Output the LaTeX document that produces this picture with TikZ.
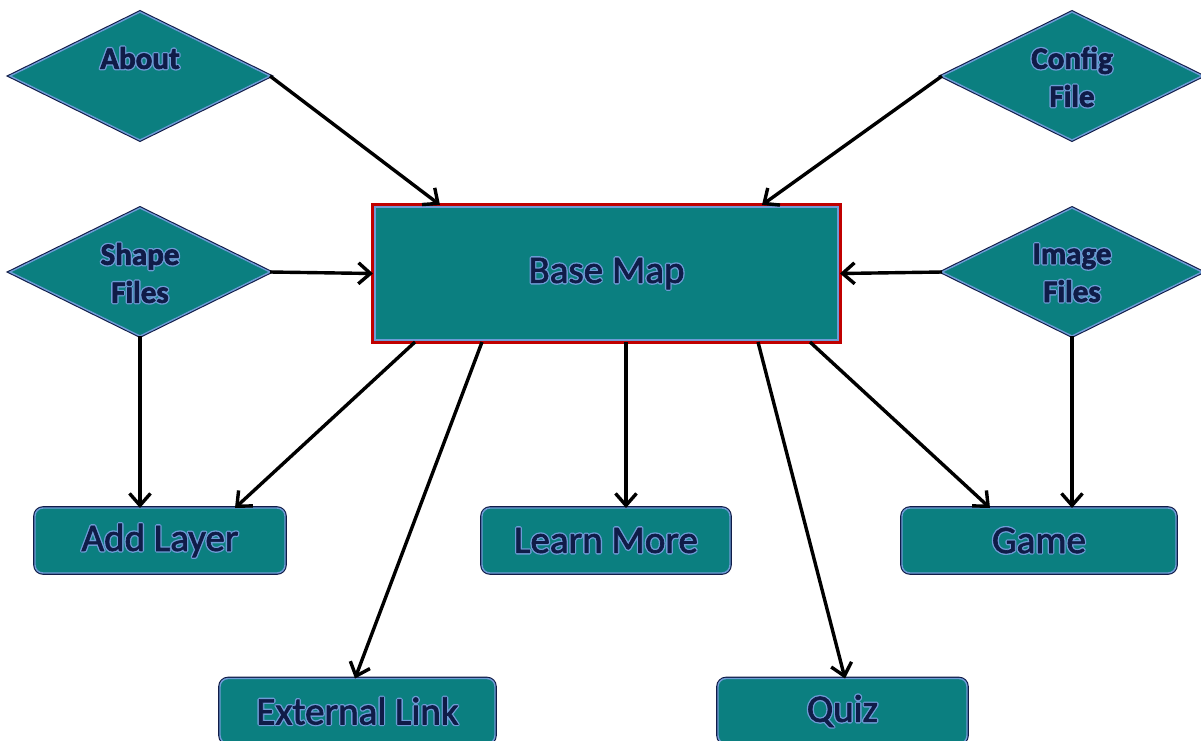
\documentclass[tikz,border=0pt]{standalone}
\usepackage{fontspec}
\setmainfont{Carlito}
\usetikzlibrary{shapes.geometric,arrows.meta}
\definecolor{tealfill}{HTML}{0B7F80}
\definecolor{navy}{HTML}{101C48}
\definecolor{lblue}{HTML}{6E9BD6}
\definecolor{redb}{HTML}{C00000}
\newcommand\gl[1]{\leavevmode\rlap{\color{lblue}\special{pdf:literal direct 2 Tr 3.4 w 0.431 0.608 0.839 RG 1 j}#1\special{pdf:literal direct 0 Tr 0 0 0 RG 0.4 w 0 j}}{\color{navy}\special{pdf:literal direct 2 Tr 0.7 w 0.063 0.110 0.282 RG}#1\special{pdf:literal direct 0 Tr 0 0 0 RG 0.4 w}}}
\tikzset{
  dia/.style={diamond, fill=tealfill, draw=lblue, line width=1.4pt,
    preaction={draw=navy, line width=3.6pt},
    minimum width=260pt, minimum height=128pt, inner sep=0pt, outer sep=0pt},
  dtext/.style={font=\fontsize{31}{38}\selectfont\bfseries, align=center, inner sep=0pt},
  rbox/.style={rectangle, rounded corners=8pt, fill=tealfill, draw=lblue, line width=1.4pt,
    preaction={draw=navy, line width=3.6pt},
    minimum height=65pt, inner sep=0pt, outer sep=0pt,
    font=\fontsize{39}{47}\selectfont},
  basebox/.style={rectangle, fill=tealfill, draw=lblue, line width=1.4pt,
    preaction={draw=redb, line width=8pt},
    minimum width=463pt, minimum height=133pt, inner sep=0pt, outer sep=2pt,
    font=\fontsize{39}{47}\selectfont},
  arr/.style={draw=black, line width=3.4pt, -{Straight Barb[length=12pt,width=21pt]}}
}
\begin{document}
\begin{tikzpicture}[x=1pt,y=-1pt]
\useasboundingbox (0,0) rectangle (1201,740);
% diamonds
\node[dia] (about) at (140,76) {};
\node[dtext] (aboutt) at (140,58) {\gl{About}};
\node[dia] (config) at (1072,76) {};
\node[dtext] (configt) at (1072,77) {\gl{Config}\\\gl{File}};
\node[dia] (shape) at (140,272) {};
\node[dtext] (shapet) at (140,273) {\gl{Shape}\\\gl{Files}};
\node[dia] (image) at (1072,272) {};
\node[dtext] (imaget) at (1072,273) {\gl{Image}\\\gl{Files}};
% base map
\node[basebox] (base) at (606.5,273.5) {\gl{Base Map}};
% boxes
\node[rbox, minimum width=250pt] (addl) at (160,540.5) {\gl{Add Layer}};
\node[rbox, minimum width=248pt] (learn) at (606,540.5) {\gl{Learn More}};
\node[rbox, minimum width=274pt] (game) at (1039,540.5) {\gl{Game}};
\node[rbox, minimum width=275pt] (ext) at (357.5,711) {\gl{External Link}};
\node[rbox, minimum width=249pt] (quiz) at (842.5,711) {\gl{Quiz}};
% arrows
\draw[arr] (about.east) -- ([xshift=-166.5pt]base.north);
\draw[arr] (config.west) -- ([xshift=155.5pt]base.north);
\draw[arr] (shape.east) -- (base.west);
\draw[arr] (image.west) -- (base.east);
\draw[arr] (shape.south) -- (shape.south |- addl.north);
\draw[arr] (image.south) -- (image.south |- game.north);
\draw[arr] ([xshift=-191.5pt]base.south) -- ([xshift=75pt]addl.north);
\draw[arr] ([xshift=-124.5pt]base.south) -- ([xshift=-2.5pt]ext.north);
\draw[arr] ([xshift=19.5pt]base.south) -- ([xshift=20pt]learn.north);
\draw[arr] ([xshift=151.5pt]base.south) -- ([xshift=2.5pt]quiz.north);
\draw[arr] ([xshift=203.5pt]base.south) -- ([xshift=-49pt]game.north);
\end{tikzpicture}
\end{document}
